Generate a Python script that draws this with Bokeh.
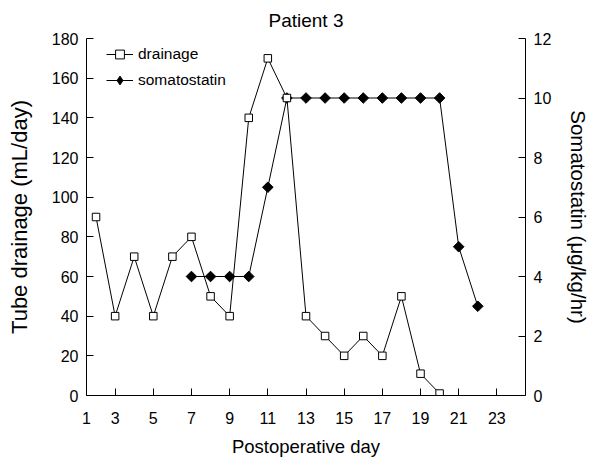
import math
from bokeh.plotting import figure
from bokeh.models import Range1d, LinearAxis, FixedTicker, Legend, LegendItem
from bokeh.embed import file_html
from bokeh.resources import INLINE

# ---- data ----
drain_days = [2, 3, 4, 5, 6, 7, 8, 9, 10, 11, 12, 13, 14, 15, 16, 17, 18, 19, 20]
drainage = [90, 40, 70, 40, 70, 80, 50, 40, 140, 170, 150, 40, 30, 20, 30, 20, 50, 11, 1]

soma_days = [7, 8, 9, 10, 11, 12, 13, 14, 15, 16, 17, 18, 19, 20, 21, 22]
somatostatin = [4, 4, 4, 4, 7, 10, 10, 10, 10, 10, 10, 10, 10, 10, 5, 3]

x_ticks = [1.5, 3, 5, 7, 9, 11, 13, 15, 17, 19, 21, 23]
x_tick_labels = {1.5: "1"}
left_ticks = [0, 20, 40, 60, 80, 100, 120, 140, 160, 180]
right_ticks = [0, 2, 4, 6, 8, 10, 12]

FONT = "Liberation Sans"

p = figure(width=593, height=459, output_backend="svg", toolbar_location=None,
           x_range=Range1d(1.5, 24.5), y_range=Range1d(0, 180),
           min_border_left=86, min_border_right=63, min_border_top=38, min_border_bottom=61,
           title="Patient 3")
p.extra_y_ranges = {"right": Range1d(0, 12)}

p.title.align = "center"
p.title.text_font = FONT
p.title.text_font_size = "19px"
p.title.text_font_style = "normal"
p.title.text_color = "black"
p.title.standoff = 15

p.grid.visible = False
p.outline_line_color = None
p.background_fill_color = "white"
p.border_fill_color = "white"

# right axis
raxis = LinearAxis(y_range_name="right", axis_label="Somatostatin (μg/kg/hr)")
p.add_layout(raxis, "right")

p.xaxis.ticker = FixedTicker(ticks=x_ticks)
p.xaxis.major_label_overrides = x_tick_labels
p.yaxis[0].ticker = FixedTicker(ticks=left_ticks)
raxis.ticker = FixedTicker(ticks=right_ticks)

p.xaxis.axis_label = "Postoperative day"
p.yaxis[0].axis_label = "Tube drainage (mL/day)"

for ax in p.axis:
    ax.axis_line_color = "black"
    ax.axis_line_width = 1
    ax.major_tick_line_color = "black"
    ax.major_tick_in = 7
    ax.major_tick_out = 0
    ax.minor_tick_line_color = None
    ax.major_label_text_font = FONT
    ax.major_label_text_font_size = "16px"
    ax.major_label_text_color = "black"
    ax.major_label_standoff = 8
    ax.axis_label_text_font = FONT
    ax.axis_label_text_font_style = "normal"
    ax.axis_label_text_color = "black"

p.xaxis.axis_label_text_font_size = "18.5px"
p.xaxis.major_label_standoff = 16
p.xaxis.axis_label_standoff = 9
p.yaxis[0].axis_label_text_font_size = "22px"
p.yaxis[0].axis_label_standoff = 17
raxis.axis_label_text_font_size = "20.5px"
raxis.axis_label_standoff = 13

# somatostatin (right axis)
sl = p.line(soma_days, somatostatin, y_range_name="right", line_color="black", line_width=1)
ss = p.scatter(soma_days, somatostatin, y_range_name="right", marker="square",
               angle=math.pi / 4, size=7.5, fill_color="black", line_color="black")
# legend-only diamond sample (legend ignores marker angle)
sd = p.scatter(soma_days, somatostatin, y_range_name="right", marker="diamond",
               size=10, fill_color="black", line_color="black", visible=False)

# drainage (left axis)
dl = p.line(drain_days, drainage, line_color="black", line_width=1)
ds = p.scatter(drain_days, drainage, marker="square", size=7.5,
               fill_color="white", line_color="black", line_width=1)

legend = Legend(items=[LegendItem(label="drainage", renderers=[dl, ds]),
                       LegendItem(label="somatostatin", renderers=[sl, sd])],
                location=(20, 304), padding=0, margin=0, spacing=4,
                glyph_width=27, glyph_height=22, label_height=22, label_standoff=5,
                border_line_color=None, background_fill_alpha=0,
                label_text_font=FONT, label_text_font_size="15.5px", label_text_color="black")
p.add_layout(legend)

open("out.html", "w").write(file_html(p, INLINE))
